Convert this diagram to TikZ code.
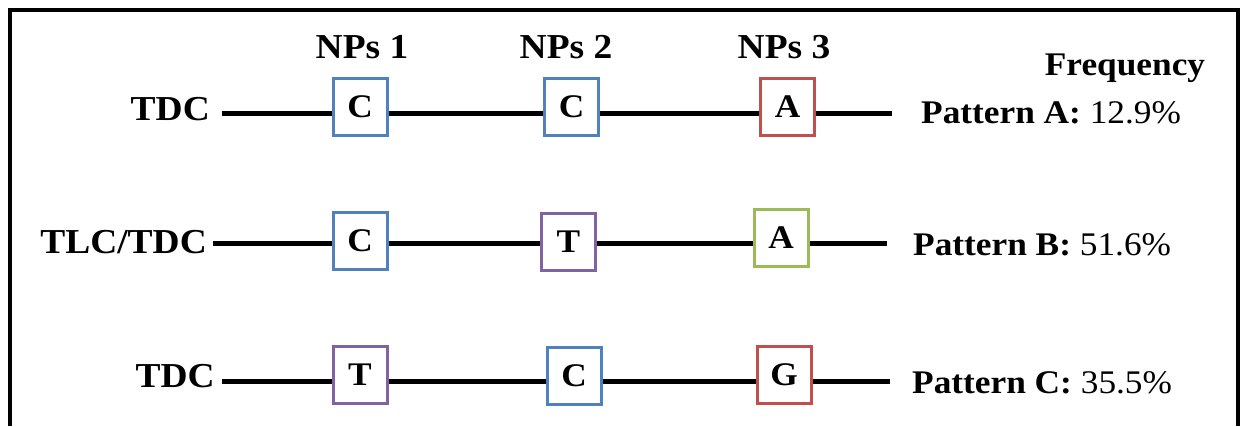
\documentclass[tikz,border=0pt]{standalone}
\usepackage{fontspec}
\setmainfont[FakeStretch=1.07]{Liberation Serif}
\definecolor{cblue}{HTML}{4F81BD}
\definecolor{cpurple}{HTML}{8064A2}
\definecolor{cred}{HTML}{C0504D}
\definecolor{cgreen}{HTML}{9BBB59}
\tikzset{
  nbox/.style={draw=#1, line width=3pt, fill=white, minimum width=54pt, minimum height=57pt, inner sep=0pt, font=\fontsize{33}{33}\selectfont\bfseries},
  conn/.style={line width=5pt, black},
  rowlabel/.style={anchor=base east, inner sep=0pt, font=\fontsize{35}{35}\selectfont\bfseries},
  colhead/.style={anchor=base, inner sep=0pt, font=\fontsize{35}{35}\selectfont\bfseries},
  freq/.style={anchor=base west, inner sep=0pt, font=\fontsize{33}{33}\selectfont},
  frame/.style={line width=4pt, black}
}
\begin{document}
\begin{tikzpicture}[x=1pt,y=-1pt]
\useasboundingbox (0,0) rectangle (1243,426);
\fill[white] (0,0) rectangle (1243,426);
% frame
\coordinate (fbl) at (10,426);
\coordinate (ftl) at (10,10);
\coordinate (ftr) at (1238,10);
\coordinate (fbr) at (1238,426);
\draw[frame] (fbl) -- (ftl) -- (ftr) -- (fbr);

% column heads
\node[colhead] (np1) at (362,58) {NPs 1};
\node[colhead] (np2) at (566,58) {NPs 2};
\node[colhead] (np3) at (784,58) {NPs 3};
\node[anchor=base, inner sep=0pt, font=\fontsize{33}{33}\selectfont\bfseries] (fq) at (1125,75) {Frequency};

% row 1
\node[rowlabel] (l1) at (210,120) {TDC};
\coordinate (s1) at (222,113);
\coordinate (e1) at (892,113);
\node[nbox=cblue] (b11) at (360,106.5) {C};
\node[nbox=cblue] (b12) at (571.5,106.5) {C};
\node[nbox=cred] (b13) at (787.5,107) {A};
\draw[conn] (s1) -- (b11.west |- s1);
\draw[conn] (b11.east |- s1) -- (b12.west |- s1);
\draw[conn] (b12.east |- s1) -- (b13.west |- s1);
\draw[conn] (b13.east |- s1) -- (e1);
\node[freq] (p1) at (921,123) {\textbf{Pattern A:} 12.9\%};

% row 2
\node[rowlabel] (l2) at (207,253) {TLC/TDC};
\coordinate (s2) at (213,243);
\coordinate (e2) at (887,243);
\node[nbox=cblue] (b21) at (360,240.5) {C};
\node[nbox=cpurple] (b22) at (568.5,242) {T};
\node[nbox=cgreen] (b23) at (781,237.5) {A};
\draw[conn] (s2) -- (b21.west |- s2);
\draw[conn] (b21.east |- s2) -- (b22.west |- s2);
\draw[conn] (b22.east |- s2) -- (b23.west |- s2);
\draw[conn] (b23.east |- s2) -- (e2);
\node[freq] (p2) at (913,255) {\textbf{Pattern B:} 51.6\%};

% row 3
\node[rowlabel] (l3) at (215,387) {TDC};
\coordinate (s3) at (222,381);
\coordinate (e3) at (890,381);
\node[nbox=cpurple] (b31) at (360,375) {T};
\node[nbox=cblue] (b32) at (574,375.5) {C};
\node[nbox=cred] (b33) at (784,375) {G};
\draw[conn] (s3) -- (b31.west |- s3);
\draw[conn] (b31.east |- s3) -- (b32.west |- s3);
\draw[conn] (b32.east |- s3) -- (b33.west |- s3);
\draw[conn] (b33.east |- s3) -- (e3);
\node[freq] (p3) at (912,393) {\textbf{Pattern C:} 35.5\%};
\end{tikzpicture}
\end{document}
